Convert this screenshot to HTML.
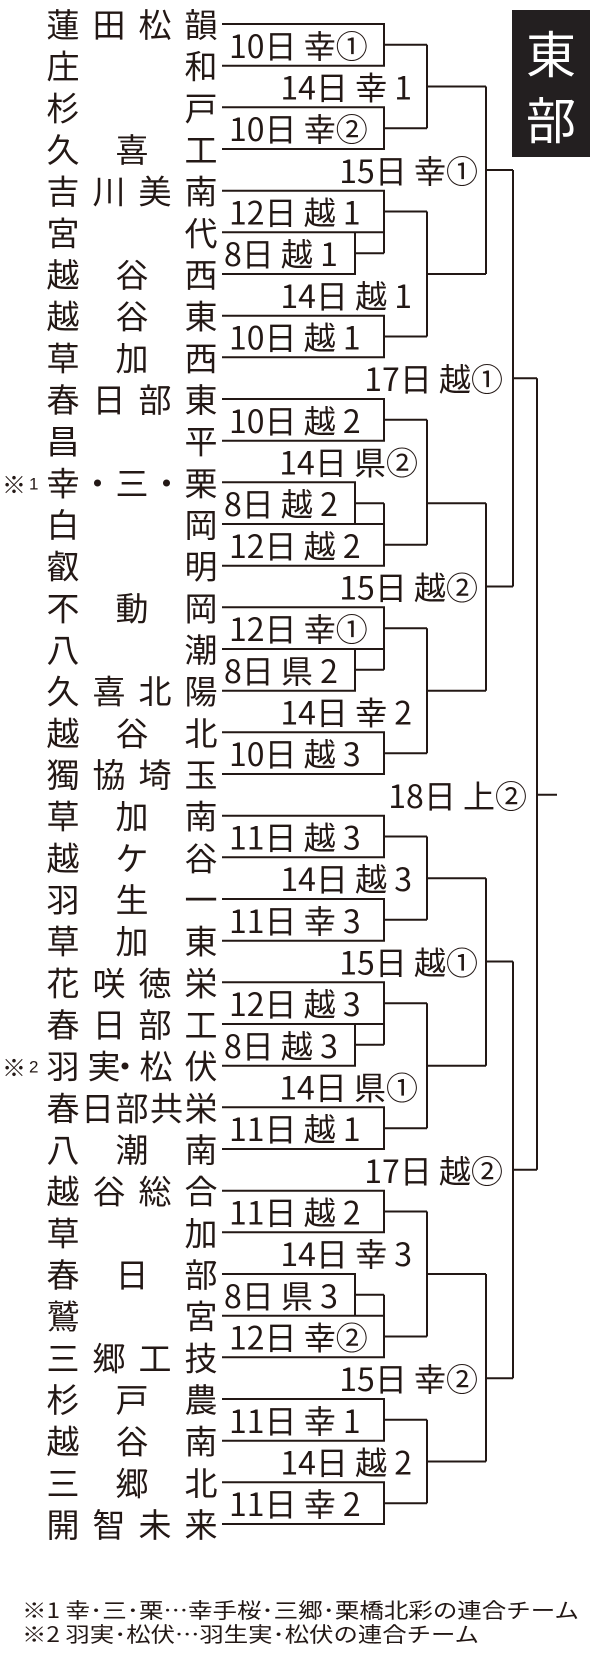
<!DOCTYPE html>
<html><head><meta charset="utf-8"><style>
html,body{margin:0;padding:0;background:#fff;}
svg{display:block;}
.n{font-family:"Liberation Sans","Noto Sans CJK JP",sans-serif;font-size:33px;fill:#231815;text-anchor:middle;dominant-baseline:central;}
.l{font-family:"Noto Sans CJK JP","Liberation Sans",sans-serif;font-size:32px;fill:#231815;dominant-baseline:central;}
.r{text-anchor:end;}
.f{font-family:"Noto Sans CJK JP","Liberation Sans",sans-serif;font-size:21px;fill:#231815;dominant-baseline:central;}
</style></head><body>
<svg width="600" height="1663" viewBox="0 0 600 1663" xmlns="http://www.w3.org/2000/svg">
<rect x="512" y="10" width="78" height="147" fill="#231f20"/>
<text x="551" y="52" font-family="Noto Sans CJK JP,sans-serif" font-size="50" fill="#fff" text-anchor="middle" dominant-baseline="central">東</text>
<text x="551" y="118" font-family="Noto Sans CJK JP,sans-serif" font-size="50" fill="#fff" text-anchor="middle" dominant-baseline="central">部</text>

<path fill="none" stroke="#231815" stroke-width="2" d="
M222 24H384V65.7H222 M384 44.8H427
M222 107.3H384V149H222 M384 128.2H427
M222 315.7H384V357.3H222 M384 336.5H427
M222 399H384V440.7H222 M384 419.8H427
M222 732.3H384V774H222 M384 753.2H427
M222 815.7H384V857.3H222 M384 836.5H427
M222 899H384V940.7H222 M384 919.8H427
M222 1107.3H384V1149H222 M384 1128.2H427
M222 1190.7H384V1232.3H222 M384 1211.5H427
M222 1399H384V1440.7H222 M384 1419.8H427
M222 1482.3H384V1524H222 M384 1503.2H427
M222 232.3H355V274H222 M355 253.2H384
M222 482.3H355V524H222 M355 503.2H384
M222 649H355V690.7H222 M355 669.8H384
M222 1024H355V1065.7H222 M355 1044.8H384
M222 1274H355V1315.7H222 M355 1294.8H384
M222 190.7H384V253.2 M355 232.3H384 M384 211.5H427
M222 607.3H384V669.8 M355 649H384 M384 628.2H427
M222 982.3H384V1044.8 M355 1024H384 M384 1003.2H427
M384 503.2V565.7H222 M355 524H384 M384 544.8H427
M384 1294.8V1357.3H222 M355 1315.7H384 M384 1336.5H427
M427 44.8V128.2 M427 86.5H486
M427 211.5V336.5 M427 274H486
M427 419.8V544.8 M427 503.2H486
M427 628.2V753.2 M427 690.7H486
M427 836.5V919.8 M427 878.2H486
M427 1003.2V1128.2 M427 1065.7H486
M427 1211.5V1336.5 M427 1274H486
M427 1419.8V1503.2 M427 1461.5H486
M486 86.5V274 M486 170H513
M486 503.2V690.7 M486 586.5H513
M486 878.2V1065.7 M486 961.5H513
M486 1274V1461.5 M486 1378.2H513
M513 170V586.5 M513 378.2H537
M513 961.5V1378.2 M513 1169.8H537
M537 378.2V1169.8 M537 794.8H557
"/>

<g class="n">
<text y="25"><tspan x="63">蓮</tspan><tspan x="109">田</tspan><tspan x="155">松</tspan><tspan x="201">韻</tspan></text>
<text y="66.7"><tspan x="63">庄</tspan><tspan x="201">和</tspan></text>
<text y="108.3"><tspan x="63">杉</tspan><tspan x="201">戸</tspan></text>
<text y="150"><tspan x="63">久</tspan><tspan x="132">喜</tspan><tspan x="201">工</tspan></text>
<text y="191.7"><tspan x="63">吉</tspan><tspan x="109">川</tspan><tspan x="155">美</tspan><tspan x="201">南</tspan></text>
<text y="233.3"><tspan x="63">宮</tspan><tspan x="201">代</tspan></text>
<text y="275"><tspan x="63">越</tspan><tspan x="132">谷</tspan><tspan x="201">西</tspan></text>
<text y="316.7"><tspan x="63">越</tspan><tspan x="132">谷</tspan><tspan x="201">東</tspan></text>
<text y="358.3"><tspan x="63">草</tspan><tspan x="132">加</tspan><tspan x="201">西</tspan></text>
<text y="400"><tspan x="63">春</tspan><tspan x="109">日</tspan><tspan x="155">部</tspan><tspan x="201">東</tspan></text>
<text y="441.7"><tspan x="63">昌</tspan><tspan x="201">平</tspan></text>
<text y="483.3"><tspan x="63">幸</tspan><tspan x="97.5">・</tspan><tspan x="132">三</tspan><tspan x="166.5">・</tspan><tspan x="201">栗</tspan></text>
<text y="525"><tspan x="63">白</tspan><tspan x="201">岡</tspan></text>
<text y="566.7"><tspan x="63">叡</tspan><tspan x="201">明</tspan></text>
<text y="608.3"><tspan x="63">不</tspan><tspan x="132">動</tspan><tspan x="201">岡</tspan></text>
<text y="650"><tspan x="63">八</tspan><tspan x="201">潮</tspan></text>
<text y="691.7"><tspan x="63">久</tspan><tspan x="109">喜</tspan><tspan x="155">北</tspan><tspan x="201">陽</tspan></text>
<text y="733.3"><tspan x="63">越</tspan><tspan x="132">谷</tspan><tspan x="201">北</tspan></text>
<text y="775"><tspan x="63">獨</tspan><tspan x="109">協</tspan><tspan x="155">埼</tspan><tspan x="201">玉</tspan></text>
<text y="816.7"><tspan x="63">草</tspan><tspan x="132">加</tspan><tspan x="201">南</tspan></text>
<text y="858.3"><tspan x="63">越</tspan><tspan x="132">ケ</tspan><tspan x="201">谷</tspan></text>
<text y="900"><tspan x="63">羽</tspan><tspan x="132">生</tspan><tspan x="201">一</tspan></text>
<text y="941.7"><tspan x="63">草</tspan><tspan x="132">加</tspan><tspan x="201">東</tspan></text>
<text y="983.3"><tspan x="63">花</tspan><tspan x="109">咲</tspan><tspan x="155">徳</tspan><tspan x="201">栄</tspan></text>
<text y="1025"><tspan x="63">春</tspan><tspan x="109">日</tspan><tspan x="155">部</tspan><tspan x="201">工</tspan></text>
<text y="1066.7"><tspan x="63">羽</tspan><tspan x="104">実</tspan><tspan x="125">・</tspan><tspan x="156">松</tspan><tspan x="201">伏</tspan></text>
<text y="1108.3"><tspan x="63">春</tspan><tspan x="97.5">日</tspan><tspan x="132">部</tspan><tspan x="166.5">共</tspan><tspan x="201">栄</tspan></text>
<text y="1150"><tspan x="63">八</tspan><tspan x="132">潮</tspan><tspan x="201">南</tspan></text>
<text y="1191.7"><tspan x="63">越</tspan><tspan x="109">谷</tspan><tspan x="155">総</tspan><tspan x="201">合</tspan></text>
<text y="1233.3"><tspan x="63">草</tspan><tspan x="201">加</tspan></text>
<text y="1275"><tspan x="63">春</tspan><tspan x="132">日</tspan><tspan x="201">部</tspan></text>
<text y="1316.7"><tspan x="63">鷲</tspan><tspan x="201">宮</tspan></text>
<text y="1358.3"><tspan x="63">三</tspan><tspan x="109">郷</tspan><tspan x="155">工</tspan><tspan x="201">技</tspan></text>
<text y="1400"><tspan x="63">杉</tspan><tspan x="132">戸</tspan><tspan x="201">農</tspan></text>
<text y="1441.7"><tspan x="63">越</tspan><tspan x="132">谷</tspan><tspan x="201">南</tspan></text>
<text y="1483.3"><tspan x="63">三</tspan><tspan x="132">郷</tspan><tspan x="201">北</tspan></text>
<text y="1525"><tspan x="63">開</tspan><tspan x="109">智</tspan><tspan x="155">未</tspan><tspan x="201">来</tspan></text>
</g>
<text x="2" y="483" font-family="Noto Sans CJK JP,sans-serif" font-size="24" fill="#231815" dominant-baseline="central">※</text>
<text x="29" y="484" font-family="Liberation Sans,sans-serif" font-size="17" fill="#231815" dominant-baseline="central">1</text>
<text x="2" y="1066" font-family="Noto Sans CJK JP,sans-serif" font-size="24" fill="#231815" dominant-baseline="central">※</text>
<text x="29" y="1067" font-family="Liberation Sans,sans-serif" font-size="17" fill="#231815" dominant-baseline="central">2</text>

<g class="l">
<text x="229" y="44.8">10日 幸①</text>
<text x="229" y="128.2">10日 幸②</text>
<text x="229" y="211.5">12日 越 1</text>
<text x="224" y="253.2">8日 越 1</text>
<text x="229" y="336.5">10日 越 1</text>
<text x="229" y="419.8">10日 越 2</text>
<text x="224" y="503.2">8日 越 2</text>
<text x="229" y="544.8">12日 越 2</text>
<text x="229" y="628.2">12日 幸①</text>
<text x="224" y="669.8">8日 県 2</text>
<text x="229" y="753.2">10日 越 3</text>
<text x="229" y="836.5">11日 越 3</text>
<text x="229" y="919.8">11日 幸 3</text>
<text x="229" y="1003.2">12日 越 3</text>
<text x="224" y="1044.8">8日 越 3</text>
<text x="229" y="1128.2">11日 越 1</text>
<text x="229" y="1211.5">11日 越 2</text>
<text x="224" y="1294.8">8日 県 3</text>
<text x="229" y="1336.5">12日 幸②</text>
<text x="229" y="1419.8">11日 幸 1</text>
<text x="229" y="1503.2">11日 幸 2</text>
</g>
<g class="l r">
<text x="412" y="86.5">14日  幸 1</text>
<text x="412" y="294.8">14日  越 1</text>
<text x="418" y="461.5">14日  県②</text>
<text x="412" y="711.5">14日  幸 2</text>
<text x="412" y="878.2">14日  越 3</text>
<text x="418" y="1086.5">14日  県①</text>
<text x="412" y="1253.2">14日  幸 3</text>
<text x="412" y="1461.5">14日  越 2</text>
<text x="478" y="169.8">15日  幸①</text>
<text x="478" y="586.5">15日  越②</text>
<text x="478" y="961.5">15日  越①</text>
<text x="478" y="1378.2">15日  幸②</text>
<text x="503" y="378.2">17日  越①</text>
<text x="503" y="1169.8">17日  越②</text>
<text x="527" y="794.8">18日  上②</text>
</g>

<text class="f" x="22" y="1610" textLength="557" lengthAdjust="spacingAndGlyphs">※1  幸･三･栗…幸手桜･三郷･栗橋北彩の連合チーム</text>
<text class="f" x="22" y="1634" textLength="457" lengthAdjust="spacingAndGlyphs">※2  羽実･松伏…羽生実･松伏の連合チーム</text>
</svg>
</body></html>
